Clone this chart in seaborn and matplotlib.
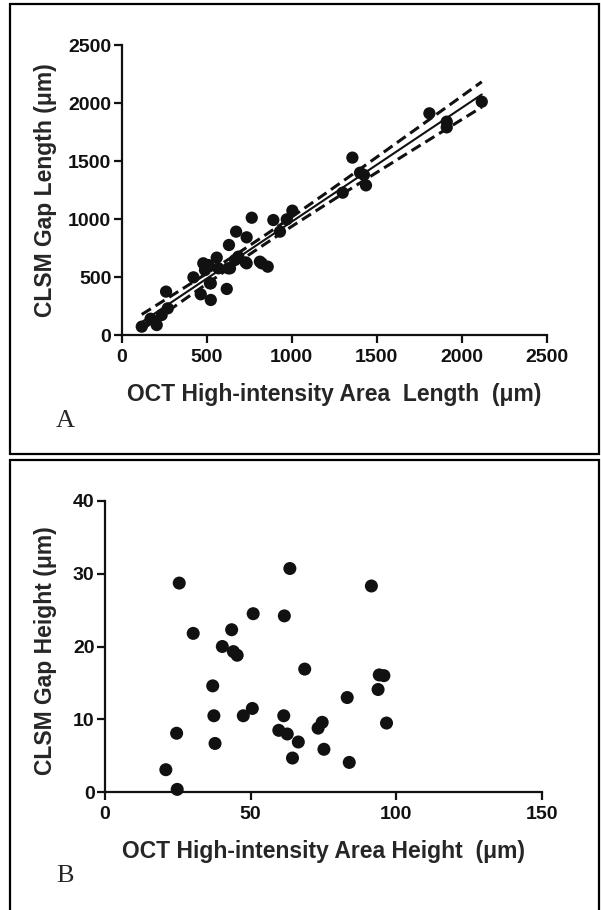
import numpy as np
import pandas as pd
import seaborn as sns
import matplotlib.pyplot as plt
from matplotlib.patches import Rectangle

# Panel A: OCT high-intensity length vs CLSM gap length (um)
oct_length = [118, 206, 261, 271, 235, 170, 422, 465, 480, 490, 510, 524, 524,
              559, 569, 618, 631, 637, 667, 673, 686, 729, 735, 765, 824, 859,
              892, 931, 971, 1004, 1300, 1357, 1402, 1425, 1437, 1810, 1912,
              1912, 2118, 519, 627, 735, 813]
clsm_length = [72, 86, 374, 230, 172, 140, 497, 351, 618, 560, 603, 445, 302,
               667, 575, 397, 776, 575, 647, 891, 675, 626, 842, 1011, 618, 589,
               991, 891, 997, 1072, 1227, 1529, 1399, 1380, 1290, 1911, 1790,
               1839, 2011, 446, 575, 618, 632]

# Panel B: OCT high-intensity height vs CLSM gap height (um)
oct_height = [25.5, 30.3, 20.9, 24.8, 24.6, 37.0, 37.4, 37.8, 40.3, 43.5, 44.1,
              45.4, 47.5, 50.6, 50.9, 61.6, 63.5, 61.4, 59.7, 62.6, 64.4, 66.4,
              68.6, 73.2, 74.6, 75.2, 83.2, 83.9, 91.5, 93.8, 94.2, 95.8, 96.7]
clsm_height = [28.7, 21.8, 3.1, 0.4, 8.1, 14.6, 10.5, 6.7, 20.0, 22.3, 19.3,
               18.8, 10.5, 11.5, 24.5, 24.2, 30.7, 10.5, 8.5, 8.0, 4.7, 6.9,
               16.9, 8.8, 9.6, 5.9, 13.0, 4.1, 28.3, 14.1, 16.1, 16.0, 9.5]

df_a = pd.DataFrame({"oct": oct_length, "clsm": clsm_length})
df_b = pd.DataFrame({"oct": oct_height, "clsm": clsm_height})

sns.set_style("ticks")
plt.rcParams["font.family"] = ["Liberation Sans", "DejaVu Sans"]
plt.rcParams["font.weight"] = "bold"

fig = plt.figure(figsize=(6.01, 9.10), dpi=100)
W, H = 601, 910
INK = "#111111"


def px_axes(x0, y_top, x1, y_bot):
    return fig.add_axes([x0 / W, 1 - y_bot / H, (x1 - x0) / W, (y_bot - y_top) / H])


def style(ax):
    sns.despine(ax=ax)
    for s in ["left", "bottom"]:
        ax.spines[s].set_linewidth(1.6)
        ax.spines[s].set_color(INK)
    ax.tick_params(length=6, width=1.6, pad=1.5, labelsize=14, colors=INK)
    ax.tick_params(axis="x", pad=4)
    for lab in ax.get_xticklabels() + ax.get_yticklabels():
        lab.set_fontweight("bold")


# frames around the two panels
fig.patches.append(Rectangle((10 / W, 1 - 454 / H), 589 / W, 450 / H, transform=fig.transFigure,
                             fill=False, lw=1.6, ec="black"))
fig.patches.append(Rectangle((10 / W, 1 - 930 / H), 589 / W, 470 / H, transform=fig.transFigure,
                             fill=False, lw=1.6, ec="black"))

# ---- panel A
ax1 = px_axes(121.7, 45, 546.7, 335)
sns.scatterplot(data=df_a, x="oct", y="clsm", ax=ax1, color=INK, s=78,
                edgecolor="none", legend=False, clip_on=False, zorder=3)

# linear fit with 95% confidence band
x = df_a["oct"].to_numpy(float)
y = df_a["clsm"].to_numpy(float)
slope, icpt = np.polyfit(x, y, 1)
n = len(x)
resid = y - (slope * x + icpt)
s_err = np.sqrt(np.sum(resid ** 2) / (n - 2))
xs = np.linspace(x.min(), x.max(), 100)
ys = slope * xs + icpt
se = s_err * np.sqrt(1 / n + (xs - x.mean()) ** 2 / np.sum((x - x.mean()) ** 2))
t = 2.02
sns.lineplot(x=xs, y=ys, ax=ax1, color=INK, lw=1.5)
ax1.plot(xs, ys + t * se, color=INK, lw=2.2, ls=(0, (3.5, 1.8)))
ax1.plot(xs, ys - t * se, color=INK, lw=2.2, ls=(0, (3.5, 1.8)))

ax1.set_xlim(0, 2500)
ax1.set_ylim(0, 2500)
ax1.set_xticks(range(0, 2501, 500))
ax1.set_yticks(range(0, 2501, 500))
ax1.set_xlabel("OCT High-intensity Area  Length  (\u03bcm)", fontsize=16.5, fontweight="bold")
ax1.set_ylabel("CLSM Gap Length (\u03bcm)", fontsize=16.5, fontweight="bold")
ax1.xaxis.set_label_coords(0.5, -0.165)
ax1.yaxis.set_label_coords(-0.152, 0.5)
style(ax1)
fig.text(65 / W, 1 - 421 / H, "A", family="Liberation Serif", fontsize=19,
         fontweight="normal", ha="center", va="center")

# ---- panel B
ax2 = px_axes(105, 500.7, 541.7, 792.3)
sns.scatterplot(data=df_b, x="oct", y="clsm", ax=ax2, color=INK, s=88,
                edgecolor="none", legend=False, clip_on=False, zorder=3)
ax2.set_xlim(0, 150)
ax2.set_ylim(0, 40)
ax2.set_xticks(range(0, 151, 50))
ax2.set_yticks(range(0, 41, 10))
ax2.set_xlabel("OCT High-intensity Area Height  (\u03bcm)", fontsize=16.5, fontweight="bold")
ax2.set_ylabel("CLSM Gap Height (\u03bcm)", fontsize=16.5, fontweight="bold")
ax2.xaxis.set_label_coords(0.5, -0.165)
ax2.yaxis.set_label_coords(-0.11, 0.485)
style(ax2)
fig.text(65 / W, 1 - 876 / H, "B", family="Liberation Serif", fontsize=19,
         fontweight="normal", ha="center", va="center")

fig.savefig("out.png", dpi=100)
